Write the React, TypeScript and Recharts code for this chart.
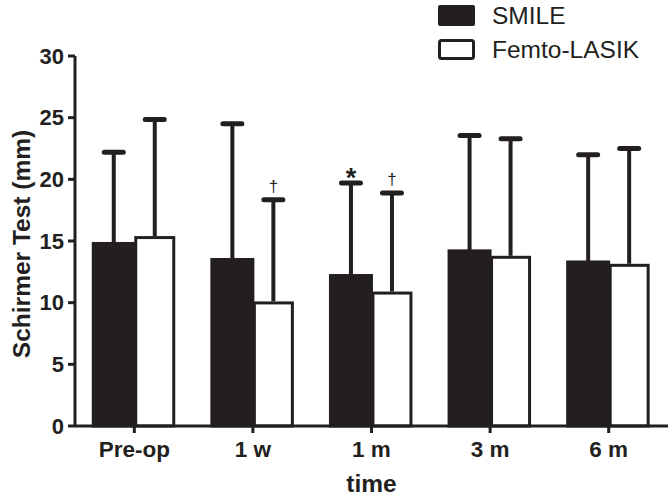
import React from "react";
import { Bar, BarChart, Label, Legend, XAxis, YAxis } from "recharts";

// values (mean, upper SD whisker)
const categories = ["Pre-op", "1 w", "1 m", "3 m", "6 m"];
const smileMean = [14.8, 13.5, 12.2, 14.2, 13.3];
const smileSd = [7.4, 11.0, 7.5, 9.35, 8.7];
const femtoMean = [15.4, 10.1, 10.9, 13.8, 13.15];
const femtoSd = [9.45, 8.25, 8.0, 9.5, 9.35];
const smileMarks = ["", "", "*", "", ""];
const femtoMarks = ["", "\u2020", "\u2020", "", ""];
const yTicks = [0, 5, 10, 15, 20, 25, 30];

const INK = "#231f20";
const FONT = "'Liberation Sans', Arial, Helvetica, sans-serif";

const data = categories.map((name, i) => ({
  name,
  smile: smileMean[i],
  smileSd: smileSd[i],
  smileMark: smileMarks[i],
  femto: femtoMean[i],
  femtoSd: femtoSd[i],
  femtoMark: femtoMarks[i],
}));

// bar + one-sided (upper) SD whisker + significance mark
function BarWithError(props: any) {
  const { x, y, width, height, payload, meanKey, sdKey, markKey, hollow } = props;
  const mean = payload[meanKey];
  const sd = payload[sdKey];
  const mark = payload[markKey];
  const perUnit = mean ? height / mean : 0;
  const top = y - sd * perUnit;
  const cx = x + width / 2;
  return (
    <g>
      {hollow ? (
        <rect
          x={x + 1.5}
          y={y + 1.5}
          width={width - 3}
          height={height - 1.5}
          fill="#fff"
          stroke={INK}
          strokeWidth={3}
        />
      ) : (
        <rect x={x} y={y} width={width} height={height} fill={INK} stroke={INK} strokeWidth={3} />
      )}
      <line x1={cx} y1={y} x2={cx} y2={top} stroke={INK} strokeWidth={4} />
      <line
        x1={cx - 9.5}
        y1={top}
        x2={cx + 9.5}
        y2={top}
        stroke={INK}
        strokeWidth={5}
        strokeLinecap="round"
      />
      {mark === "*" && (
        <text x={cx} y={top + 4} textAnchor="middle" fontSize={27} fontWeight="bold" fill={INK} fontFamily={FONT}>
          {mark}
        </text>
      )}
      {mark && mark !== "*" && (
        <text x={cx} y={top - 8} textAnchor="middle" fontSize={17} fill={INK} fontFamily={FONT}>
          {mark}
        </text>
      )}
    </g>
  );
}

function LegendBox() {
  return (
    <svg width={671} height={70} style={{ display: "block" }}>
      <rect x={438} y={5} width={37} height={21} rx={2} fill={INK} />
      <text x={492} y={24} fontSize={24.5} fill={INK} fontFamily={FONT}>
        SMILE
      </text>
      <rect x={439.5} y={40.5} width={34} height={18} rx={2} fill="#fff" stroke={INK} strokeWidth={3} />
      <text x={492} y={58} fontSize={24.5} fill={INK} fontFamily={FONT}>
        Femto-LASIK
      </text>
    </svg>
  );
}

export default function App() {
  const tickStyle = { fill: INK, fontSize: 22, fontWeight: "bold", fontFamily: FONT };
  return (
    <div style={{ position: "absolute", left: 0, top: 0, background: "#fff" }}>
      <BarChart
        width={671}
        height={499}
        data={data}
        margin={{ top: 56, right: 3, bottom: 0, left: 0 }}
        barCategoryGap="15.4%"
        barGap={0}
      >
        <XAxis
          dataKey="name"
          height={73}
          tickSize={7}
          tickMargin={8}
          axisLine={{ stroke: INK, strokeWidth: 3 }}
          tickLine={{ stroke: INK, strokeWidth: 3 }}
          tick={{ ...tickStyle, fontSize: 22.5 }}
          interval={0}
        >
          <Label
            content={(p: any) => {
              const vb = p.viewBox || { x: 75, y: 426, width: 593, height: 73 };
              return (
                <text
                  x={vb.x + vb.width / 2}
                  y={vb.y + 66}
                  textAnchor="middle"
                  fontSize={24.5}
                  fontWeight="bold"
                  fill={INK}
                  fontFamily={FONT}
                >
                  time
                </text>
              );
            }}
          />
        </XAxis>
        <YAxis
          width={75}
          domain={[0, 30]}
          ticks={yTicks}
          interval={0}
          tickSize={7}
          tickMargin={4}
          axisLine={{ stroke: INK, strokeWidth: 3 }}
          tickLine={{ stroke: INK, strokeWidth: 3 }}
          tick={tickStyle}
        >
          <Label
            content={(p: any) => {
              const vb = p.viewBox || { x: 0, y: 56, width: 75, height: 370 };
              const cx = 21;
              const cy = vb.y + vb.height / 2 + 3;
              return (
                <text
                  x={cx}
                  y={cy}
                  transform={`rotate(-90, ${cx}, ${cy})`}
                  textAnchor="middle"
                  dominantBaseline="central"
                  fontSize={24.5}
                  fontWeight="bold"
                  fill={INK}
                  fontFamily={FONT}
                >
                  Schirmer Test (mm)
                </text>
              );
            }}
          />
        </YAxis>
        <Legend
          layout="vertical"
          align="center"
          verticalAlign="middle"
          wrapperStyle={{ top: 0, left: 0, width: 671, height: 70 }}
          content={() => <LegendBox />}
        />
        <Bar
          dataKey="smile"
          name="SMILE"
          fill={INK}
          isAnimationActive={false}
          shape={(p: any) => <BarWithError {...p} meanKey="smile" sdKey="smileSd" markKey="smileMark" />}
        />
        <Bar
          dataKey="femto"
          name="Femto-LASIK"
          fill="#fff"
          isAnimationActive={false}
          shape={(p: any) => (
            <BarWithError {...p} meanKey="femto" sdKey="femtoSd" markKey="femtoMark" hollow />
          )}
        />
      </BarChart>
    </div>
  );
}
